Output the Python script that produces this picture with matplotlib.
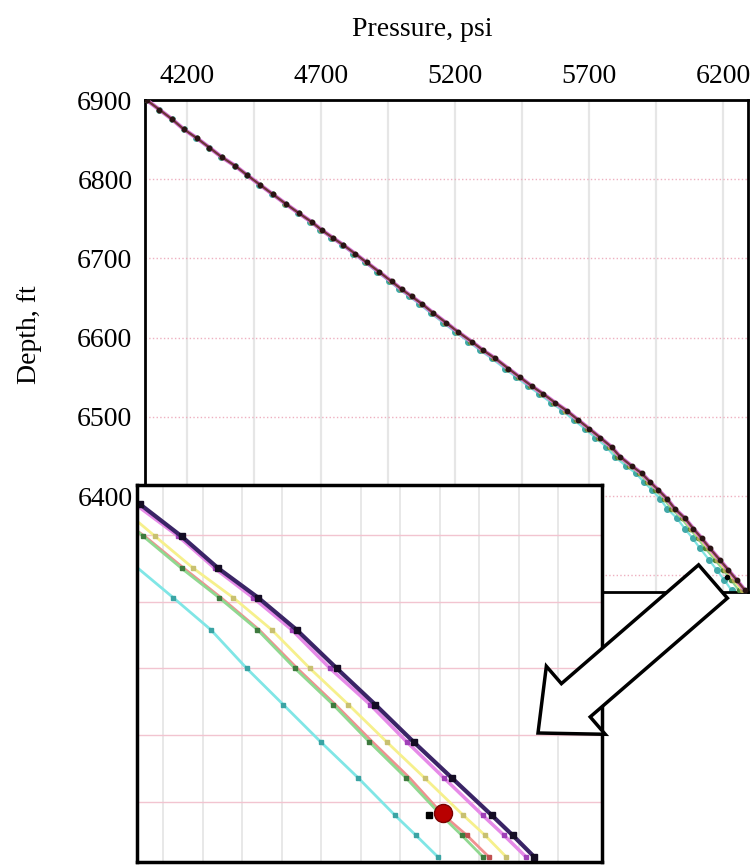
import numpy as np
import matplotlib.pyplot as plt
from matplotlib.patches import FancyArrow

plt.rcParams['font.family'] = ['Liberation Serif', 'DejaVu Serif']

# main panel: depth (ft) and pressure (psi) for each profile
depth_ft = [6900, 6888, 6876, 6863, 6852, 6840, 6828, 6817, 6805, 6793,
            6781, 6769, 6757, 6746, 6736, 6726, 6717, 6706, 6695, 6683,
            6671, 6661, 6652, 6643, 6631, 6619, 6607, 6595, 6584, 6574,
            6561, 6550, 6539, 6529, 6518, 6508, 6496, 6485, 6474, 6462,
            6450, 6438, 6429, 6418, 6408, 6397, 6384, 6372, 6359, 6347,
            6334, 6319, 6307, 6294, 6281]
p_dark = [4049, 4096, 4143, 4188, 4236, 4283, 4329, 4379, 4425, 4472,
          4520, 4568, 4618, 4665, 4702, 4744, 4783, 4827, 4870, 4917,
          4963, 5001, 5038, 5075, 5119, 5166, 5212, 5262, 5305, 5349,
          5399, 5442, 5486, 5529, 5573, 5616, 5660, 5701, 5741, 5784,
          5815, 5859, 5896, 5927, 5958, 5990, 6020, 6058, 6089, 6120,
          6151, 6189, 6219, 6251, 6282]
p_yellow = [4049, 4096, 4143, 4188, 4236, 4283, 4329, 4379, 4424, 4471,
            4519, 4567, 4617, 4664, 4701, 4743, 4782, 4825, 4868, 4915,
            4961, 4999, 5036, 5073, 5117, 5163, 5209, 5259, 5302, 5346,
            5396, 5439, 5483, 5525, 5569, 5612, 5656, 5697, 5737, 5779,
            5810, 5854, 5891, 5921, 5952, 5984, 6013, 6051, 6081, 6112,
            6142, 6179, 6208, 6240, 6270]
p_green = [4049, 4096, 4143, 4188, 4236, 4282, 4328, 4378, 4424, 4471,
           4519, 4566, 4616, 4663, 4700, 4741, 4780, 4824, 4867, 4913,
           4959, 4997, 5034, 5071, 5115, 5161, 5207, 5257, 5300, 5343,
           5393, 5436, 5480, 5522, 5566, 5609, 5653, 5693, 5733, 5775,
           5806, 5850, 5886, 5917, 5947, 5978, 6007, 6045, 6075, 6105,
           6134, 6171, 6200, 6230, 6259]
p_cyan = [4049, 4096, 4142, 4187, 4235, 4281, 4327, 4377, 4422, 4469,
          4517, 4564, 4614, 4660, 4697, 4738, 4777, 4820, 4863, 4909,
          4955, 4992, 5029, 5065, 5109, 5155, 5201, 5250, 5293, 5336,
          5386, 5428, 5472, 5514, 5558, 5600, 5644, 5684, 5723, 5765,
          5795, 5838, 5874, 5904, 5934, 5964, 5992, 6028, 6057, 6086,
          6114, 6149, 6176, 6205, 6232]
measured_p, measured_d = [6213], [6298]

# zoomed panel
in_dark_p = [6154.2, 6164.7, 6174.0, 6184.1, 6193.8, 6204.0, 6213.7, 6223.4, 6233.1, 6243.2, 6248.5, 6253.9]
in_dark_d = [6312.3, 6309.9, 6307.5, 6305.3, 6302.9, 6300.0, 6297.3, 6294.5, 6291.8, 6289.0, 6287.5, 6285.9]
in_magenta_p = [6153.0, 6163.9, 6173.1, 6182.8, 6192.6, 6202.3, 6212.4, 6221.7, 6231.1, 6240.9, 6246.3, 6251.8]
in_magenta_d = [6312.3, 6309.9, 6307.5, 6305.3, 6302.9, 6300.0, 6297.3, 6294.5, 6291.8, 6289.0, 6287.5, 6285.9]
in_yellow_p = [6154.0, 6158.0, 6167.7, 6177.8, 6187.5, 6197.2, 6206.9, 6216.6, 6226.2, 6236.0, 6241.5, 6246.8]
in_yellow_d = [6310.9, 6309.9, 6307.5, 6305.3, 6302.9, 6300.0, 6297.3, 6294.5, 6291.8, 6289.0, 6287.5, 6285.9]
in_red_p = [6153.0, 6155.4, 6165.3, 6174.7, 6184.3, 6194.0, 6203.6, 6213.0, 6222.4, 6231.0, 6236.9, 6242.4]
in_green_p = [6153.0, 6155.0, 6164.7, 6174.2, 6183.9, 6193.4, 6203.0, 6212.2, 6221.5, 6230.4, 6235.6, 6240.9]
in_green_d = [6310.4, 6309.9, 6307.5, 6305.3, 6302.9, 6300.0, 6297.3, 6294.5, 6291.8, 6289.0, 6287.5, 6285.9]
in_cyan_p = [6153.7, 6162.6, 6172.1, 6181.2, 6190.4, 6199.9, 6209.4, 6218.7, 6224.0, 6229.5]
in_cyan_d = [6307.5, 6305.3, 6302.9, 6300.0, 6297.3, 6294.5, 6291.8, 6289.0, 6287.5, 6285.9]
in_point_p, in_point_d = 6230.8, 6289.2
in_black_p, in_black_d = 6227.4, 6289.0

fig = plt.figure(figsize=(7.52, 8.65), dpi=100)

# ---- main panel
ax = fig.add_axes([145 / 752, 1 - 592 / 865, 603 / 752, 492 / 865])
ax.set_xlim(4043, 6293)
ax.set_ylim(6279, 6900)
ax.set_xticks([4200, 4700, 5200, 5700, 6200])
ax.set_xticks([4450, 4950, 5450, 5950], minor=True)
ax.set_yticks([6400, 6500, 6600, 6700, 6800, 6900])
ax.set_yticks([6300], minor=True)
ax.xaxis.tick_top()
ax.tick_params(axis='both', which='both', length=0, labelsize=20)
ax.tick_params(axis='x', pad=8)
ax.tick_params(axis='y', pad=9)
ax.grid(axis='x', which='both', color='#e6e6e6', lw=1.6)
ax.grid(axis='y', which='both', color='#eeb0c0', lw=1.0, ls=':')
ax.set_axisbelow(True)
for s in ax.spines.values():
    s.set_linewidth(2)

ax.plot(p_cyan, depth_ft, color='#7fe3e3', lw=1.6, marker='o', ms=4, mfc='#40a8a8', mec='#40a8a8', zorder=2)
ax.plot(p_green, depth_ft, color='#8fd48f', lw=1.6, marker='o', ms=3, mfc='#4a8a3a', mec='#4a8a3a', zorder=3)
ax.plot(p_yellow, depth_ft, color='#eee27a', lw=1.6, marker='o', ms=3, mfc='#b0a850', mec='#b0a850', zorder=4)
ax.plot(p_dark, depth_ft, color='#d878d8', lw=3.0, zorder=5)
ax.plot(p_dark, depth_ft, color='#6e3438', lw=1.6, marker='o', ms=3.2, mfc='#2a1414', mec='#2a1414', zorder=6)
ax.plot(measured_p, measured_d, 'o', color='black', ms=3, zorder=7)

fig.text(422 / 752, 1 - 30 / 865, 'Pressure, psi', ha='center', va='center', fontsize=20)
fig.text(30 / 752, 1 - 335 / 865, 'Depth, ft', ha='center', va='center', rotation=90, fontsize=20)

# ---- zoomed panel
ax2 = fig.add_axes([137 / 752, 3 / 865, 465 / 752, 377 / 865])
ax2.set_xlim(6153.4, 6271.1)
ax2.set_ylim(6285.5, 6313.75)
ax2.set_xticks(np.arange(6160, 6270, 10))
ax2.set_yticks(np.arange(6290, 6315, 5))
ax2.tick_params(length=0, labelbottom=False, labelleft=False)
ax2.grid(axis='x', color='#e8e8e8', lw=1.4)
ax2.grid(axis='y', color='#f2c4d0', lw=1.0)
ax2.set_axisbelow(True)
ax2.set_facecolor('white')
for s in ax2.spines.values():
    s.set_linewidth(2.5)

ax2.plot(in_cyan_p, in_cyan_d, color='#80e6e6', lw=2, marker='s', ms=3.5,
         mfc='#3aa4a4', mec='#3aa4a4', markevery=slice(1, None))
ax2.plot(in_red_p, in_green_d, color='#f09090', lw=2, marker='s', ms=3,
         mfc='#c05050', mec='#c05050', markevery=slice(9, None))
ax2.plot(in_green_p, in_green_d, color='#90d890', lw=2, marker='s', ms=3.5,
         mfc='#3e7a3e', mec='#3e7a3e', markevery=slice(1, None))
ax2.plot(in_yellow_p, in_yellow_d, color='#f6f08c', lw=2, marker='s', ms=3.5,
         mfc='#c8c070', mec='#c8c070', markevery=slice(1, None))
ax2.plot(in_magenta_p, in_magenta_d, color='#e68ae8', lw=2.5, marker='s', ms=3.5,
         mfc='#a040b8', mec='#a040b8', markevery=slice(1, None))
ax2.plot(in_dark_p, in_dark_d, color='#3a2466', lw=3, marker='s', ms=4.5,
         mfc='#140c24', mec='#140c24')
ax2.plot(in_black_p, in_black_d, 's', color='black', ms=4)
ax2.plot(in_point_p, in_point_d, 'o', color='#b80000', mec='#7a0000', ms=13, zorder=8)

# ---- block arrow (inches, so it is not distorted)
arrow = FancyArrow(7.13, 2.835, -1.75, -1.515, width=0.44, head_width=0.90,
                   head_length=0.50, length_includes_head=True,
                   transform=fig.dpi_scale_trans, facecolor='white',
                   edgecolor='black', lw=2.5, zorder=10)
fig.add_artist(arrow)

fig.savefig('out.png', dpi=100)
